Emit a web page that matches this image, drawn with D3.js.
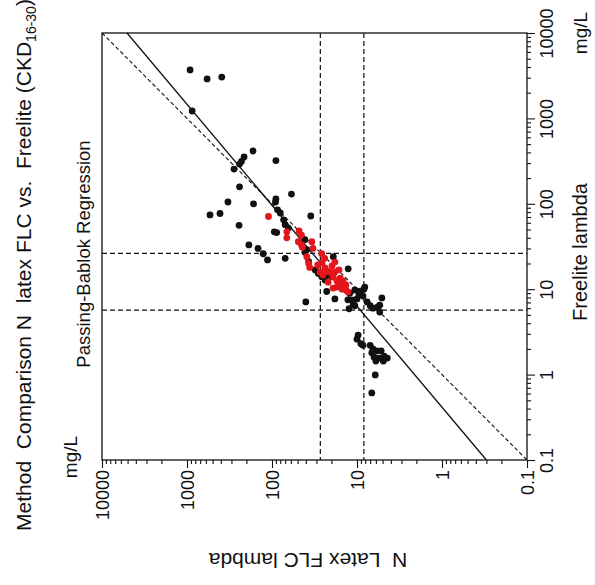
<!DOCTYPE html>
<html><head><meta charset="utf-8">
<script src="https://cdn.jsdelivr.net/npm/d3@7"></script>
<style>html,body{margin:0;padding:0;background:#fff;} svg{display:block}</style>
</head><body>
<svg id="chart" width="595" height="585"></svg>
<script>
// ---- data ----
const majorTicks = [0.1, 1, 10, 100, 1000, 10000];
const majorTickLabels = ["0.1", "1", "10", "100", "1000", "10000"];
const titleMain = "Method  Comparison N  latex FLC vs.  Freelite (CKD";
const titleSub = "16-30";
const xTitle = "N  Latex FLC lambda";
const yTitle = "Freelite lambda";
const unitLabel = "mg/L";
const methodLabel = "Passing-Bablok Regression";

// [N Latex FLC lambda, Freelite lambda] (mg/L)
const blackPoints = [
  [920,3700],[580,2900],[390,3050],[870,1220],
  [167,415],[213,353],[229,313],[241,292],[280,255],[90,321],
  [241,158],[330,105],[165,100],[536,74],[409,77],[244,56],
  [59,130],[90,114],[91,105],[86,85],[80,78],[35,72],[73,65],[70,57],[64,52],
  [94,47],[88,46],[187,33],[146,30],[127,26],[113,22],[70,23],
  [41,38],[39,29],[41,27],[37,21],[19,24],[12.7,17.3],[22.7,9.4],[18.2,7.7],[40,7.1],
  [31,16.8],[28.5,15.3],[26,14],[22.7,14.7],[23.8,12.8],[19.9,14],
  [12.1,9.0],[10.6,9.8],[9.2,9.5],[8.3,10.0],[8.5,8.3],[11.5,7.5],[10,7.7],[11.1,6.7],
  [12.4,5.9],[7.6,7.1],[7.0,6.4],[6.5,6.0],[5.7,6.2],[5.1,7.9],[5.4,5.4],[12.8,7.5],
  [8.1,10.6],[9.5,8.8],[10.6,6.4],[5.4,6.5],
  [9.7,2.9],[10,2.6],[9.0,2.3],[8.5,2.2],[7.0,2.2],[6.5,2.0],[5.8,1.9],[6.7,1.8],
  [5.2,1.9],[6.3,1.6],[4.8,1.65],[4.4,1.56],[6.0,1.44],[4.9,1.44],[5.5,1.56],
  [6.1,0.99],[6.7,0.61]
];
const redPoints = [
  [110,71],[67,47],[67,40],[48,48],[45,43],[49,36],[45,33],[44,31],[34,36],[33,30],
  [39,24],[37,20],[36,18],[26,26],[24,23],[29,19.2],[25.8,20.3],[23.8,17.7],[22.5,16.3],
  [27.2,15.9],[25.1,14.7],[19.7,18.7],[18.2,20.8],[18.2,15.9],[21.3,15.9],[19.1,13.9],
  [16.3,16.8],[15.8,13.5],[14.6,12.5],[17.2,12.5],[21.9,12.1],[15,11.5],[13.5,11.2],
  [17.2,10.6],[19.1,10.3],[15,10],[13.5,9.8],[12.8,9.3]
];
const identityLine = [[10000,10000],[0.1,0.1]];
const regressionLine = [[5080,10000],[0.30,0.1]];
const nLatexRefRange = [8.3, 27];
const freeliteRefRange = [5.7, 26.3];

// ---- drawing ----
const FONT = "'Liberation Sans', Arial, Helvetica, sans-serif";
const svg = d3.select("#chart");
const x = d3.scaleLog().domain([10000, 0.1]).range([102, 527]);
const y = d3.scaleLog().domain([0.1, 10000]).range([460, 33]);

const minorTicks = [];
[0.1, 1, 10, 100, 1000].forEach(d => { for (let k = 2; k <= 9; k++) minorTicks.push(d * k); });

const fmt = d => majorTickLabels[majorTicks.indexOf(d)];

// bottom axis
const gx = svg.append("g").attr("transform", `translate(0,${y(0.1)})`);
gx.append("g").call(d3.axisBottom(x).tickValues(minorTicks).tickSize(4).tickFormat(""));
const gxMaj = gx.append("g").call(d3.axisBottom(x).tickValues(majorTicks).tickSize(8).tickFormat(fmt));
gx.selectAll(".domain").remove();
gx.selectAll("line").attr("stroke", "#111").attr("stroke-width", 1.1);
gxMaj.selectAll("text")
  .attr("transform", "rotate(-90)")
  .attr("x", -10).attr("y", 0).attr("dy", "0.35em")
  .attr("text-anchor", "end")
  .attr("font-family", FONT).attr("font-size", 18).attr("fill", "#111");

// right axis
const gy = svg.append("g").attr("transform", `translate(${x(0.1)},0)`);
gy.append("g").call(d3.axisRight(y).tickValues(minorTicks).tickSize(4).tickFormat(""));
const gyMaj = gy.append("g").call(d3.axisRight(y).tickValues(majorTicks).tickSize(8).tickFormat(fmt));
gy.selectAll(".domain").remove();
gy.selectAll("line").attr("stroke", "#111").attr("stroke-width", 1.1);
gyMaj.selectAll("text")
  .attr("transform", "rotate(-90)")
  .attr("x", 0).attr("y", 26).attr("dy", 0)
  .attr("text-anchor", "middle")
  .attr("font-family", FONT).attr("font-size", 18).attr("fill", "#111");

// reference range lines
const refG = svg.append("g").attr("stroke", "#111").attr("stroke-width", 1.2).attr("stroke-dasharray", "5,3");
refG.selectAll("line.v").data(nLatexRefRange).join("line")
  .attr("x1", d => x(d)).attr("x2", d => x(d)).attr("y1", y(10000)).attr("y2", y(0.1));
refG.selectAll("line.h").data(freeliteRefRange).join("line").attr("class", "h")
  .attr("y1", d => y(d)).attr("y2", d => y(d)).attr("x1", x(10000)).attr("x2", x(0.1));

const line = d3.line().x(d => x(d[0])).y(d => y(d[1]));
svg.append("path").datum(identityLine).attr("d", line).attr("fill", "none")
  .attr("stroke", "#111").attr("stroke-width", 1.1).attr("stroke-dasharray", "4,2.5");
svg.append("path").datum(regressionLine).attr("d", line).attr("fill", "none")
  .attr("stroke", "#111").attr("stroke-width", 1.3);

// points
svg.append("g").selectAll("circle").data(blackPoints).join("circle")
  .attr("cx", d => x(d[0])).attr("cy", d => y(d[1])).attr("r", 3.4).attr("fill", "#111");
svg.append("g").selectAll("circle").data(redPoints).join("circle")
  .attr("cx", d => x(d[0])).attr("cy", d => y(d[1])).attr("r", 3.4).attr("fill", "#e3161c");

// frame
svg.append("rect").attr("x", x(10000)).attr("y", y(10000))
  .attr("width", x(0.1) - x(10000)).attr("height", y(0.1) - y(10000))
  .attr("fill", "none").attr("stroke", "#111").attr("stroke-width", 1.3);

// texts
function rtext(tx, ty, angle, str, size) {
  return svg.append("text").attr("transform", `translate(${tx},${ty}) rotate(${angle})`)
    .attr("text-anchor", "middle").attr("font-family", FONT).attr("font-size", size)
    .attr("fill", "#111").style("white-space", "pre").text(str);
}
const title = svg.append("text").attr("transform", "translate(31,265) rotate(-90)")
  .attr("text-anchor", "middle").attr("font-family", FONT).attr("font-size", 21)
  .attr("fill", "#111").style("white-space", "pre");
title.append("tspan").text(titleMain);
title.append("tspan").attr("font-size", 14).attr("dy", 5).text(titleSub);
title.append("tspan").attr("dy", -5).text(")");

rtext(90, 254, -90, methodLabel, 18.5);
rtext(77, 457, -90, unitLabel, 19);
rtext(587, 33, -90, unitLabel, 19);
rtext(587, 252, -90, yTitle, 20);
rtext(308, 553, 180, xTitle, 21);
</script>
</body></html>
